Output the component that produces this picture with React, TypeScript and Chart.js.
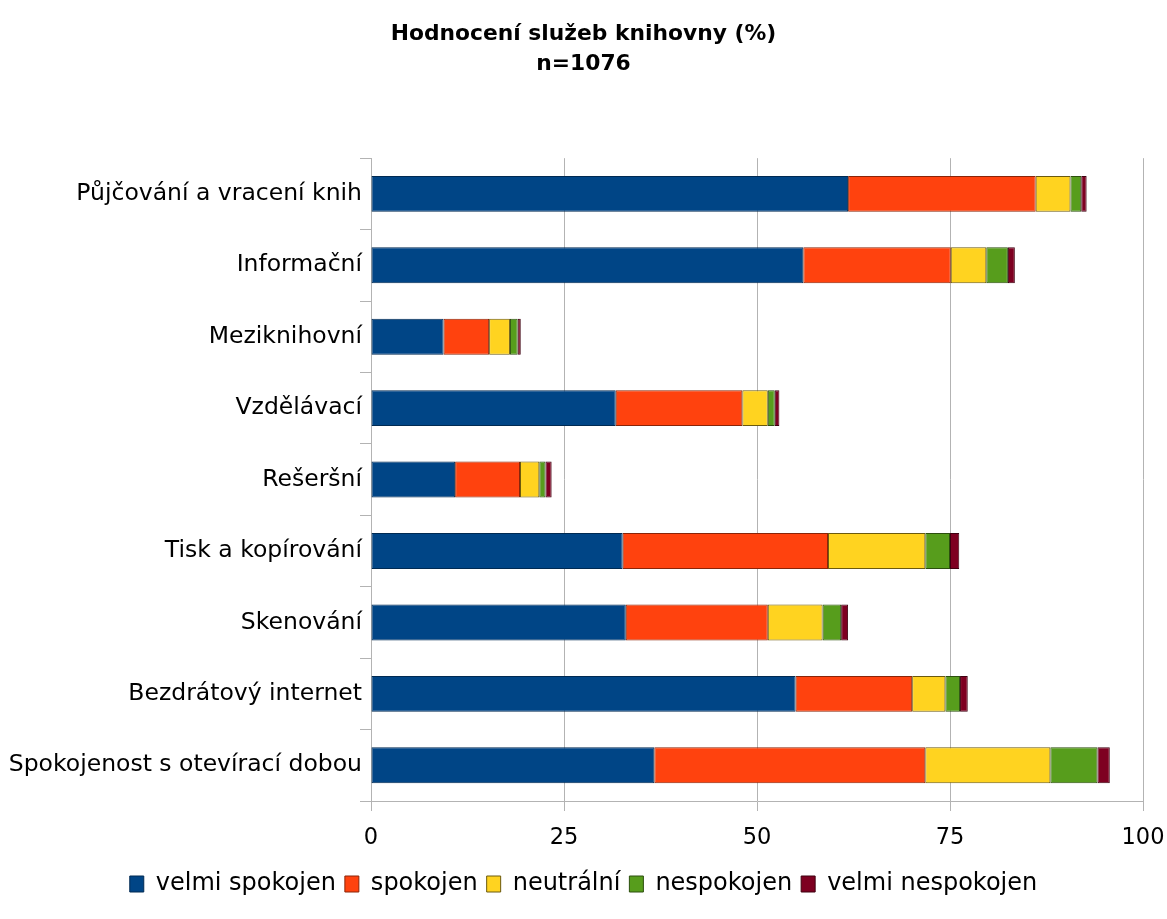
import React, { useEffect, useRef } from "react";
import { Chart, registerables } from "chart.js";

Chart.register(...registerables);

const categories = [
  "Půjčování a vracení knih",
  "Informační",
  "Meziknihovní",
  "Vzdělávací",
  "Rešeršní",
  "Tisk a kopírování",
  "Skenování",
  "Bezdrátový internet",
  "Spokojenost s otevírací dobou",
];

const velmiSpokojen = [61.8, 56.0, 9.4, 31.7, 10.9, 32.6, 33.0, 55.0, 36.7];
const spokojen = [24.3, 19.1, 5.9, 16.4, 8.4, 26.6, 18.4, 15.1, 35.1];
const neutralni = [4.5, 4.6, 2.7, 3.3, 2.5, 12.6, 7.1, 4.3, 16.2];
const nespokojen = [1.4, 2.8, 1.0, 0.9, 0.8, 3.2, 2.4, 1.9, 6.1];
const velmiNespokojen = [0.7, 0.9, 0.4, 0.6, 0.8, 1.2, 0.9, 1.0, 1.6];

const seriesNames = ["velmi spokojen", "spokojen", "neutrální", "nespokojen", "velmi nespokojen"];
const seriesValues = [velmiSpokojen, spokojen, neutralni, nespokojen, velmiNespokojen];
const seriesColors = ["#004586", "#ff420e", "#ffd320", "#579d1c", "#7e0021"];
const seriesBorders = ["#002a52", "#8a2408", "#6b5a0e", "#2c4f0e", "#3f0010"];

const xTicks = [0, 25, 50, 75, 100];
const titleLines = ["Hodnocení služeb knihovny (%)", "n=1076"];

const FONT = "'DejaVu Sans', Verdana, sans-serif";

export default function App() {
  const ref = useRef<HTMLCanvasElement | null>(null);

  useEffect(() => {
    if (!ref.current) return;
    const chart = new Chart(ref.current, {
      type: "bar",
      data: {
        labels: categories,
        datasets: seriesNames.map((name, i) => ({
          label: name,
          data: seriesValues[i],
          backgroundColor: seriesColors[i],
          borderColor: seriesBorders[i],
          borderWidth: 1,
          borderSkipped: false,
          categoryPercentage: 1,
          barPercentage: 0.503,
        })),
      },
      options: {
        indexAxis: "y",
        animation: false,
        responsive: true,
        maintainAspectRatio: false,
        layout: { padding: { left: 0, right: 0, top: 0, bottom: 13 } },
        font: { family: FONT },
        plugins: {
          title: {
            display: true,
            text: titleLines,
            color: "#000",
            font: { family: FONT, size: 21.8, weight: "bold", lineHeight: 1.38 },
            padding: { top: 19, bottom: 79 },
          },
          legend: {
            display: true,
            position: "bottom",
            labels: {
              color: "#000",
              font: { family: FONT, size: 24 },
              boxWidth: 14,
              boxHeight: 16,
              padding: 9,
            },
          },
          tooltip: { enabled: false },
        },
        scales: {
          x: {
            stacked: true,
            min: 0,
            max: 100,
            afterBuildTicks: (scale: any) => {
              scale.ticks = xTicks.map((v) => ({ value: v }));
            },
            afterFit: (scale: any) => {
              scale.height = 62;
              scale.paddingLeft = 0;
              scale.paddingRight = 24;
            },
            ticks: {
              color: "#000",
              font: { family: FONT, size: 22.5 },
              padding: 14,
              maxRotation: 0,
            },
            grid: {
              color: "#b3b3b3",
              lineWidth: 1,
              tickLength: 10,
              drawTicks: true,
            },
            border: { color: "#b3b3b3", width: 1 },
          },
          y: {
            stacked: true,
            afterFit: (scale: any) => {
              scale.width = 371;
            },
            ticks: {
              color: "#000",
              font: { family: FONT, size: 23.5 },
              padding: -2,
            },
            grid: {
              display: true,
              drawOnChartArea: false,
              drawTicks: true,
              tickLength: 11,
              color: "#b3b3b3",
              offset: true,
            },
            border: { color: "#b3b3b3", width: 1 },
          },
        },
      },
    });
    return () => chart.destroy();
  }, []);

  return (
    <div style={{ position: "fixed", left: 0, top: 0, width: 1167, height: 919, background: "#fff" }}>
      <canvas ref={ref} />
    </div>
  );
}
